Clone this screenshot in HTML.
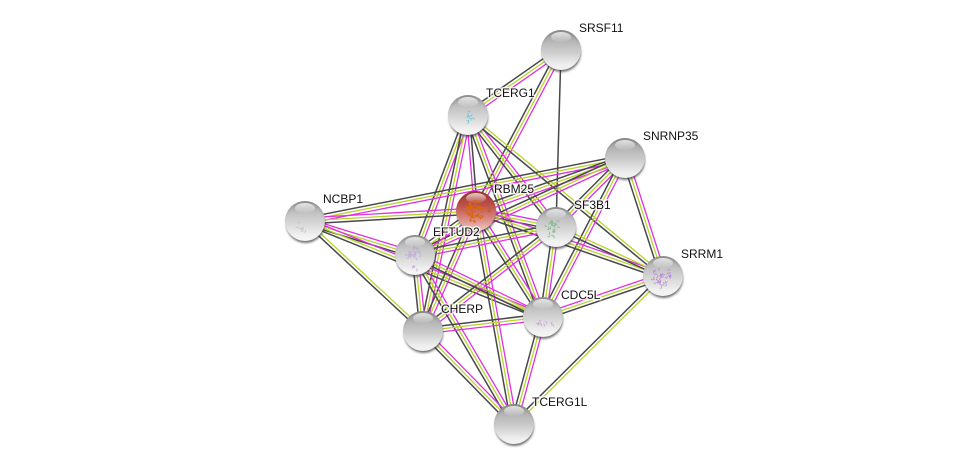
<!DOCTYPE html>
<html><head><meta charset="utf-8"><style>
html,body{margin:0;padding:0;background:#fff;width:975px;height:469px;overflow:hidden}
svg{display:block}
text{font-family:"Liberation Sans",sans-serif;font-size:12px;fill:#111;stroke:#fff;stroke-width:3px;paint-order:stroke;stroke-opacity:.75}
</style></head><body>
<svg id="s" xmlns="http://www.w3.org/2000/svg" width="975" height="469" viewBox="0 0 975 469">
<defs>
<linearGradient id="b" x1="0" y1="0" x2="0" y2="1"><stop offset="0" stop-color="#959595"/><stop offset=".3" stop-color="#b8b8b8"/><stop offset=".55" stop-color="#cccccc"/><stop offset=".85" stop-color="#ededed"/><stop offset="1" stop-color="#f4f4f4"/></linearGradient>
<linearGradient id="w" x1="0" y1="0" x2="0" y2="1"><stop offset="0" stop-color="#9c9c9c"/><stop offset=".3" stop-color="#c2c2c2"/><stop offset=".55" stop-color="#d6d6d6"/><stop offset=".85" stop-color="#f0f0f0"/><stop offset="1" stop-color="#f6f6f6"/></linearGradient>
<linearGradient id="r" x1="0" y1="0" x2="0" y2="1"><stop offset="0" stop-color="#a23a32"/><stop offset=".35" stop-color="#bd5048"/><stop offset=".7" stop-color="#d98a82"/><stop offset="1" stop-color="#efcbc6"/></linearGradient>
<radialGradient id="e" cx=".5" cy=".6" r=".62"><stop offset=".78" stop-color="#000" stop-opacity="0"/><stop offset="1" stop-color="#000" stop-opacity=".16"/></radialGradient>
<linearGradient id="h" x1="0" y1="0" x2="0" y2="1"><stop offset="0" stop-color="#fff" stop-opacity=".75"/><stop offset="1" stop-color="#fff" stop-opacity=".05"/></linearGradient>
<filter id="sh" x="-30%" y="-30%" width="160%" height="160%"><feGaussianBlur stdDeviation="1"/></filter>
</defs>
<g id="edges"></g>
<g id="nodes"></g>
<g id="tex" fill="none"></g>
<g id="labels">
<text x="579" y="32">SRSF11</text>
<text x="486" y="97">TCERG1</text>
<text x="643" y="140">SNRNP35</text>
<text x="494" y="193">RBM25</text>
<text x="323" y="203">NCBP1</text>
<text x="574" y="209">SF3B1</text>
<text x="433" y="236">EFTUD2</text>
<text x="681" y="258">SRRM1</text>
<text x="561" y="299">CDC5L</text>
<text x="441" y="313">CHERP</text>
<text x="532" y="406">TCERG1L</text>
</g>
</svg>
<script>
var N={a:[561,50,'b'],t:[468,115,'w'],s:[625,158,'b'],r:[476,211,'r'],n:[305,221,'w'],f:[556,227,'w'],e:[415,255,'w'],m:[663,276,'w'],c:[543,317,'w'],h:[423,331,'b'],l:[514,424,'b']};
var E=['at','ar','af:d','te','th','tr:dm','tf','tc','tm:gd','sn','sr','sf','se','sc','sm','nr','ne','nh:gd','nc','re','rf','rc','rm','rh','rl','fe','fm:gd','fc','fh','ec','eh','el','cm','ch','cl','hl','ml:gd'];
var C={m:'#e030e0',g:'#b8d42c',d:'#484848'};
var NS='http://www.w3.org/2000/svg',G=document.getElementById('edges'),O=document.getElementById('nodes'),T=document.getElementById('tex');
E.forEach(function(x){var p=x.split(':'),A=N[p[0][0]],B=N[p[0][1]],t=(p[1]||'mgd').split('');
var dx=B[0]-A[0],dy=B[1]-A[1],L=Math.hypot(dx,dy),ux=-dy/L,uy=dx/L;
t.forEach(function(k,i){var o=(i-(t.length-1)/2)*3,l=document.createElementNS(NS,'line');
l.setAttribute('x1',A[0]+ux*o);l.setAttribute('y1',A[1]+uy*o);l.setAttribute('x2',B[0]+ux*o);l.setAttribute('y2',B[1]+uy*o);
l.setAttribute('stroke',C[k]);l.setAttribute('stroke-width',k=='d'?'1.5':'1.3');G.appendChild(l);});});
function el(n,a,par){var e=document.createElementNS(NS,n);for(var k in a)e.setAttribute(k,a[k]);par.appendChild(e);}
for(var k in N){var n=N[k],x=n[0],y=n[1];
el('circle',{cx:x+.5,cy:y+2.5,r:19.5,fill:'#333','fill-opacity':.7,filter:'url(#sh)'},O);
el('circle',{cx:x,cy:y,r:20,fill:'url(#'+n[2]+')'},O);
el('circle',{cx:x,cy:y,r:20,fill:'url(#e)'},O);
el('ellipse',{cx:x,cy:y-13,rx:10,ry:5,fill:'url(#h)'},O);}
/* small molecular scribbles: short hops between points inside an ellipse */
var seed=12345;function R(){seed=(seed*16807)%2147483647;return seed/2147483647;}
function sc(cx,cy,rx,ry,n,col,w,op){var d='';
for(var i=0;i<n;i++){var a=R()*6.283,r=Math.sqrt(R()),x=cx+Math.cos(a)*r*rx,y=cy+Math.sin(a)*r*ry,b=R()*6.283;
d+='M'+x.toFixed(1)+' '+y.toFixed(1)+'l'+(Math.cos(b)*2.2).toFixed(1)+' '+(Math.sin(b)*2.2).toFixed(1)+'l'+(Math.cos(b+1.5)*1.8).toFixed(1)+' '+(Math.sin(b+1.5)*1.8).toFixed(1);}
el('path',{d:d,stroke:col,'stroke-width':w,'stroke-opacity':op,'stroke-linejoin':'round'},T);}
sc(467,116,6,5,9,'#5cc4d8',.7,.9);
sc(474,211,9,11,38,'#d9660f',1.2,1);sc(489,212,2,3,3,'#b85a20',.8,.9);
sc(553,228,6,9,26,'#7cb68a',.7,.9);
sc(302,226,4,7,7,'#c4c4c4',.7,1);
sc(414,253,7,6,24,'#bda6d6',.7,.9);sc(414,267,3,2,4,'#bda6d6',.7,.9);
sc(662,277,10,9,36,'#b884d8',.7,.9);
sc(541,322,5,3,7,'#c6a4d4',.7,1);sc(552,324,1,2,2,'#c6a4d4',.7,1);
</script>
</body></html>
